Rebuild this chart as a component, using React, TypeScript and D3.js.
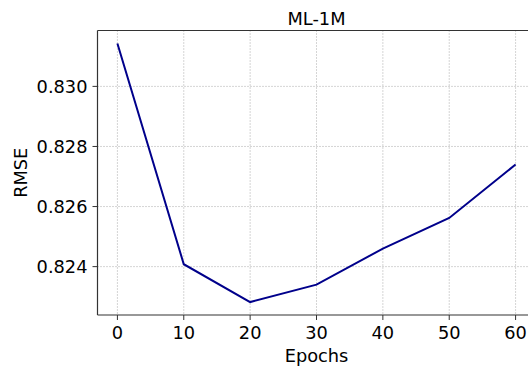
import React from "react";
import * as d3 from "d3";

const epochs = [0, 10, 20, 30, 40, 50, 60];
const rmse = [0.83143, 0.82408, 0.82282, 0.8234, 0.8246, 0.82562, 0.8274];
const xTicks = [0, 10, 20, 30, 40, 50, 60];
const yTicks = [0.824, 0.826, 0.828, 0.83];
const title = "ML-1M";
const xLabel = "Epochs";
const yLabel = "RMSE";

const W = 528;
const H = 369;
const left = 97.5;
const right = 535.5;
const top = 30.5;
const bottom = 315;
const font = "DejaVu Sans, sans-serif";
const fs = 17.8;

export default function App() {
  const x = d3.scaleLinear().domain([-3, 63]).range([left, right]);
  const y = d3.scaleLinear().domain([0.82239, 0.83186]).range([bottom, top]);
  const line = d3
    .line<number>()
    .x((_, i) => x(epochs[i]))
    .y((d) => y(d));
  return (
    <svg
      width={W}
      height={H}
      style={{ position: "absolute", left: 0, top: 0, background: "#fff" }}
    >
      <rect width={W} height={H} fill="#fff" />
      {xTicks.map((t) => (
        <line
          key={"gx" + t}
          x1={x(t)}
          x2={x(t)}
          y1={top}
          y2={bottom}
          stroke="#aaaaaa"
          strokeWidth={1}
          strokeDasharray="1,2"
        />
      ))}
      {yTicks.map((t) => (
        <line
          key={"gy" + t}
          x1={left}
          x2={right}
          y1={y(t)}
          y2={y(t)}
          stroke="#aaaaaa"
          strokeWidth={1}
          strokeDasharray="1,2"
        />
      ))}
      <path d={line(rmse) || ""} fill="none" stroke="#00008b" strokeWidth={2} />
      <line x1={left} x2={left} y1={top} y2={bottom} stroke="#333" strokeWidth={1.2} />
      <line x1={left} x2={right} y1={bottom} y2={bottom} stroke="#333" strokeWidth={1.2} />
      <line x1={left} x2={right} y1={top} y2={top} stroke="#333" strokeWidth={1.2} />
      <line x1={right} x2={right} y1={top} y2={bottom} stroke="#333" strokeWidth={1.2} />
      {xTicks.map((t) => (
        <g key={"xt" + t}>
          <line x1={x(t)} x2={x(t)} y1={bottom} y2={bottom + 5} stroke="#333" strokeWidth={1} />
          <text
            x={x(t)}
            y={bottom + 24}
            textAnchor="middle"
            fontFamily={font}
            fontSize={fs}
            fill="#000"
          >
            {d3.format("d")(t)}
          </text>
        </g>
      ))}
      {yTicks.map((t) => (
        <g key={"yt" + t}>
          <line x1={left - 5} x2={left} y1={y(t)} y2={y(t)} stroke="#333" strokeWidth={1} />
          <text
            x={left - 10}
            y={y(t)}
            dy="0.35em"
            textAnchor="end"
            fontFamily={font}
            fontSize={fs}
            fill="#000"
          >
            {d3.format(".3f")(t)}
          </text>
        </g>
      ))}
      <text
        x={(left + right) / 2}
        y={top - 6}
        textAnchor="middle"
        fontFamily={font}
        fontSize={fs}
        fill="#000"
      >
        {title}
      </text>
      <text
        x={(left + right) / 2}
        y={bottom + 47}
        textAnchor="middle"
        fontFamily={font}
        fontSize={fs}
        fill="#000"
      >
        {xLabel}
      </text>
      <text
        transform={`translate(${27},${(top + bottom) / 2}) rotate(-90)`}
        textAnchor="middle"
        fontFamily={font}
        fontSize={fs}
        fill="#000"
      >
        {yLabel}
      </text>
    </svg>
  );
}
